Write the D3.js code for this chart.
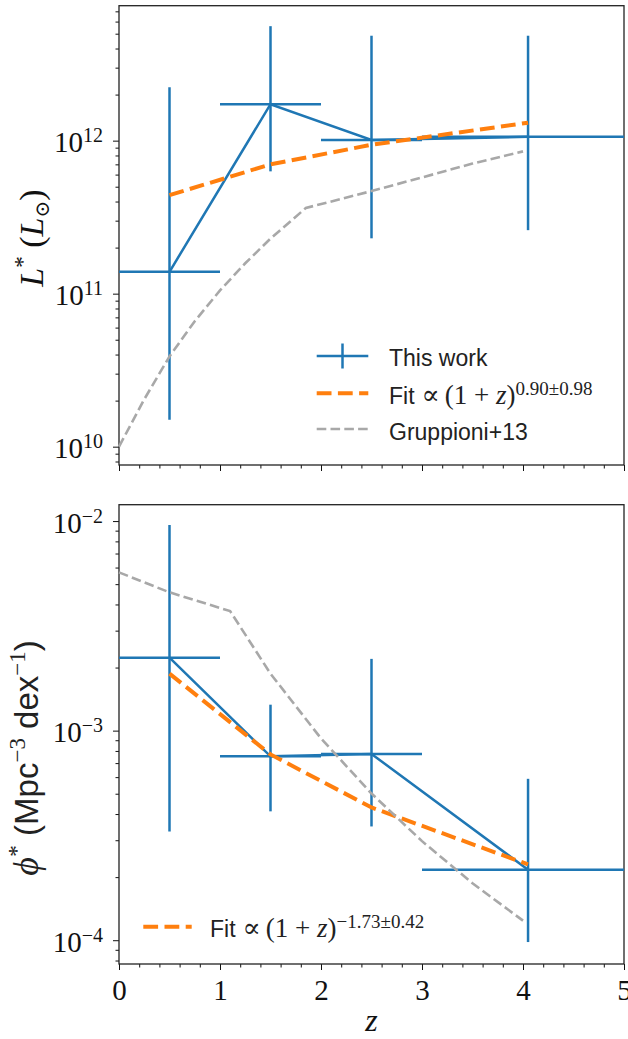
<!DOCTYPE html>
<html>
<head>
<meta charset="utf-8">
<script src="https://cdn.jsdelivr.net/npm/d3@7"></script>
<style>
body { margin: 0; background: #fff; }
</style>
</head>
<body>
<div id="chart"></div>
<script>
// redshift bins
var zMid = [0.5, 1.5, 2.5, 4.05];
var zLo = [0, 1, 2, 3];
var zHi = [1, 2, 3, 5];

// top panel: L* (L_sun)
var lStar = [1.39e11, 1.73e12, 1.01e12, 1.06e12];
var lStarLo = [1.5e10, 6.3e11, 2.3e11, 2.6e11];
var lStarHi = [2.23e12, 5.6e12, 4.85e12, 4.85e12];
var lFit = [4.4e11, 7.0e11, 9.4e11, 1.31e12];
var gruppZ = [0, 0.25, 0.5, 0.75, 1.0, 1.25, 1.5, 1.85, 2.5, 3.0, 3.5, 4.0];
var gruppL = [1.0e10, 2.04e10, 3.89e10, 6.61e10, 1.05e11, 1.58e11, 2.29e11, 3.63e11, 4.68e11, 5.75e11, 7.08e11, 8.51e11];

// bottom panel: phi* (Mpc^-3 dex^-1)
var phiStar = [2.23e-3, 7.54e-4, 7.74e-4, 2.17e-4];
var phiLo = [3.3e-4, 4.12e-4, 3.49e-4, 9.8e-5];
var phiHi = [9.57e-3, 1.33e-3, 2.2e-3, 5.89e-4];
var phiFit = [1.87e-3, 7.7e-4, 4.3e-4, 2.3e-4];
var gruppPhiZ = [0, 0.5, 1.1, 1.5, 2.0, 2.5, 3.0, 3.5, 4.0];
var gruppPhi = [5.69e-3, 4.57e-3, 3.72e-3, 1.87e-3, 9.18e-4, 5.01e-4, 2.97e-4, 1.87e-4, 1.24e-4];

// axis ticks
var xTicks = [0, 1, 2, 3, 4, 5];
var yTopTicks = [1e10, 1e11, 1e12];
var yTopExp = ["10", "11", "12"];
var yBotTicks = [1e-4, 1e-3, 1e-2];
var yBotExp = ["\u22124", "\u22123", "\u22122"];

var blue = "#1f77b4", orange = "#ff7f0e", grey = "#a8a8a8";
var serif = "'Liberation Serif', 'DejaVu Serif', serif";
var sans = "'Liberation Sans', Arial, sans-serif";

var width = 628, height = 1039;
var left = 119, right = 624;

var svg = d3.select("#chart").append("svg")
	.attr("width", width)
	.attr("height", height);

var x = d3.scaleLinear().domain([0, 5]).range([left, right]);
var yTop = d3.scaleLog().domain([7.59e9, 7.62e12]).range([465, 5.7]);
var yBot = d3.scaleLog().domain([7.7e-5, 1.197e-2]).range([964, 504.7]);

function minorLog(y) {
	var d = y.domain(), out = [];
	for (var e = Math.floor(Math.log10(d[0])); e <= Math.ceil(Math.log10(d[1])); e++) {
		for (var k = 2; k <= 9; k++) {
			var v = k * Math.pow(10, e);
			if (v >= d[0] && v <= d[1]) out.push(v);
		}
	}
	return out;
}

function drawPanel(y, ticks, exps, showX) {
	var top = y.range()[1], bottom = y.range()[0];
	var g = svg.append("g");

	// x axis minor + major
	g.append("g")
		.attr("transform", "translate(0," + bottom + ")")
		.call(d3.axisBottom(x).tickValues(d3.range(0, 5.01, 0.2)).tickSize(3.5).tickFormat(""));
	var xa = g.append("g")
		.attr("transform", "translate(0," + bottom + ")")
		.call(d3.axisBottom(x).tickValues(xTicks).tickSize(6).tickPadding(9)
			.tickFormat(showX ? d3.format("d") : ""));
	xa.selectAll("text")
		.attr("font-family", serif)
		.attr("font-size", 29)
		.attr("fill", "#111")
		.attr("dy", "0.71em");

	// y axis minor + major
	g.append("g")
		.attr("transform", "translate(" + left + ",0)")
		.call(d3.axisLeft(y).tickValues(minorLog(y)).tickSize(3.5).tickFormat(""));
	var ya = g.append("g")
		.attr("transform", "translate(" + left + ",0)")
		.call(d3.axisLeft(y).tickValues(ticks).tickSize(6).tickPadding(10).tickFormat(""));
	ya.selectAll(".tick text").each(function(d, i) {
		var t = d3.select(this)
			.attr("font-family", serif)
			.attr("fill", "#111")
			.attr("dy", null)
			.attr("y", 11);
		t.append("tspan").attr("font-size", 29).text("10");
		t.append("tspan").attr("font-size", 20).attr("dy", -10).text(exps[i]);
	});

	g.selectAll(".domain").remove();
	g.selectAll(".tick line").attr("stroke", "#111").attr("stroke-width", 1);

	// frame
	g.append("rect")
		.attr("x", left).attr("y", top)
		.attr("width", right - left).attr("height", bottom - top)
		.attr("fill", "none").attr("stroke", "#222").attr("stroke-width", 1.3);
	return g;
}

function drawSeries(g, y, vals, lo, hi, fit, gz, gv) {
	var line = d3.line().x(function(d) { return x(d[0]); }).y(function(d) { return y(d[1]); });

	// this work: error bars and connecting line
	var pts = zMid.map(function(z, i) { return [z, vals[i]]; });
	g.append("path").attr("d", line(pts))
		.attr("fill", "none").attr("stroke", blue).attr("stroke-width", 2.5);
	var eb = g.append("g").attr("stroke", blue).attr("stroke-width", 2.5);
	zMid.forEach(function(z, i) {
		eb.append("line")
			.attr("x1", x(zLo[i])).attr("x2", x(zHi[i]))
			.attr("y1", y(vals[i])).attr("y2", y(vals[i]));
		eb.append("line")
			.attr("x1", x(z)).attr("x2", x(z))
			.attr("y1", y(lo[i])).attr("y2", y(hi[i]));
	});

	// fit
	g.append("path").attr("d", line(zMid.map(function(z, i) { return [z, fit[i]]; })))
		.attr("fill", "none").attr("stroke", orange).attr("stroke-width", 4)
		.attr("stroke-dasharray", "14.8,6.4");

	// Gruppioni+13
	g.append("path").attr("d", line(gz.map(function(z, i) { return [z, gv[i]]; })))
		.attr("fill", "none").attr("stroke", grey).attr("stroke-width", 2.6)
		.attr("stroke-dasharray", "9.6,4.2");
}

var gTop = drawPanel(yTop, yTopTicks, yTopExp, false);
drawSeries(gTop, yTop, lStar, lStarLo, lStarHi, lFit, gruppZ, gruppL);
var gBot = drawPanel(yBot, yBotTicks, yBotExp, true);
drawSeries(gBot, yBot, phiStar, phiLo, phiHi, phiFit, gruppPhiZ, gruppPhi);

// fit legend label helper
function fitLabel(t, expText) {
	t.append("tspan").attr("font-family", sans).text("Fit");
	t.append("tspan").attr("font-family", "'DejaVu Serif', serif").attr("font-size", 27).attr("dx", 7).text("\u221D");
	t.append("tspan").attr("font-family", serif).attr("font-size", 27).attr("dx", 5).text("(1 + ");
	t.append("tspan").attr("font-family", serif).attr("font-size", 27).attr("font-style", "italic").text("z");
	t.append("tspan").attr("font-family", serif).attr("font-size", 27).text(")");
	t.append("tspan").attr("font-family", serif).attr("font-size", 19).attr("dy", -9).text(expText);
}

// top legend
var leg = svg.append("g").attr("font-size", 23).attr("fill", "#222");
leg.append("line").attr("x1", 316.7).attr("x2", 368.3).attr("y1", 356).attr("y2", 356)
	.attr("stroke", blue).attr("stroke-width", 2.5);
leg.append("line").attr("x1", 342.5).attr("x2", 342.5).attr("y1", 343.5).attr("y2", 368.5)
	.attr("stroke", blue).attr("stroke-width", 2.5);
leg.append("text").attr("x", 389).attr("y", 365.7).attr("font-family", sans).text("This work");
leg.append("line").attr("x1", 316.7).attr("x2", 368.3).attr("y1", 393.3).attr("y2", 393.3)
	.attr("stroke", orange).attr("stroke-width", 4).attr("stroke-dasharray", "14.8,6.4");
fitLabel(leg.append("text").attr("x", 389).attr("y", 404), "0.90\u00B10.98");
leg.append("line").attr("x1", 316.7).attr("x2", 368.3).attr("y1", 429).attr("y2", 429)
	.attr("stroke", grey).attr("stroke-width", 2.6).attr("stroke-dasharray", "9.6,4.2");
leg.append("text").attr("x", 389).attr("y", 440).attr("font-family", sans).text("Gruppioni+13");

// bottom legend
var leg2 = svg.append("g").attr("font-size", 23).attr("fill", "#222");
leg2.append("line").attr("x1", 143.3).attr("x2", 191.7).attr("y1", 926.7).attr("y2", 926.7)
	.attr("stroke", orange).attr("stroke-width", 4).attr("stroke-dasharray", "14.8,6.4");
fitLabel(leg2.append("text").attr("x", 210).attr("y", 936.7), "\u22121.73\u00B10.42");

// axis labels
var yl1 = svg.append("text")
	.attr("transform", "translate(43,238) rotate(-90)")
	.attr("text-anchor", "middle")
	.attr("font-family", serif).attr("font-size", 34).attr("fill", "#111");
yl1.append("tspan").attr("font-style", "italic").text("L");
yl1.append("tspan").attr("font-size", 23).attr("dy", -13).text("*");
yl1.append("tspan").attr("dy", 13).text(" (");
yl1.append("tspan").attr("font-style", "italic").text("L");
yl1.append("tspan").attr("font-size", 20).attr("dy", 6).text("\u2299");
yl1.append("tspan").attr("dy", -6).text(")");

var yl2 = svg.append("text")
	.attr("transform", "translate(38,758) rotate(-90)")
	.attr("text-anchor", "middle")
	.attr("font-size", 33).attr("fill", "#222").attr("font-family", sans);
yl2.append("tspan").attr("font-family", serif).attr("font-style", "italic").attr("font-size", 36).text("\u03D5");
yl2.append("tspan").attr("font-family", serif).attr("font-size", 24).attr("dy", -14).text("*");
yl2.append("tspan").attr("dy", 14).text(" (Mpc");
yl2.append("tspan").attr("font-family", serif).attr("font-size", 23).attr("dy", -13).text("\u22123");
yl2.append("tspan").attr("dy", 13).text(" dex");
yl2.append("tspan").attr("font-family", serif).attr("font-size", 23).attr("dy", -13).text("\u22121");
yl2.append("tspan").attr("dy", 13).text(")");

svg.append("text")
	.attr("x", (left + right) / 2).attr("y", 1031)
	.attr("text-anchor", "middle")
	.attr("font-family", serif).attr("font-style", "italic")
	.attr("font-size", 32).attr("fill", "#111")
	.text("z");
</script>
</body>
</html>
